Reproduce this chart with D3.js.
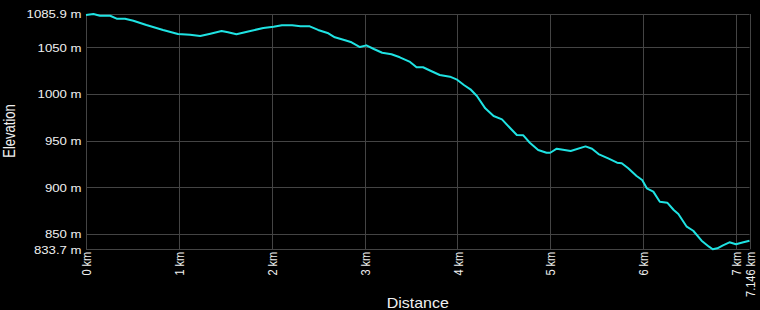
<!DOCTYPE html>
<html>
<head>
<meta charset="utf-8">
<script src="https://cdn.jsdelivr.net/npm/d3@7"></script>
<style>
  html, body { margin: 0; padding: 0; background: #000; }
  svg { display: block; }
  text { font-family: "Liberation Sans", Arial, sans-serif; fill: #f0f0f0; }
</style>
</head>
<body>
<script>
// profile chart
const width = 760;
const height = 310;

// distance along track (km) and elevation (m)
const distKm = [0.00, 0.08, 0.15, 0.26, 0.33, 0.42, 0.51, 0.65, 0.83, 0.99,
  1.12, 1.23, 1.34, 1.46, 1.53, 1.62, 1.77, 1.91, 2.02, 2.11,
  2.22, 2.31, 2.41, 2.50, 2.61, 2.68, 2.79, 2.86, 2.95, 3.02,
  3.10, 3.19, 3.29, 3.38, 3.49, 3.56, 3.63, 3.71, 3.81, 3.92,
  3.99, 4.07, 4.14, 4.21, 4.30, 4.39, 4.48, 4.57, 4.64, 4.71,
  4.78, 4.87, 4.96, 5.00, 5.07, 5.22, 5.38, 5.45, 5.52, 5.63,
  5.72, 5.77, 5.84, 5.93, 5.99, 6.04, 6.11, 6.18, 6.26, 6.33,
  6.38, 6.47, 6.54, 6.63, 6.71, 6.75, 6.80, 6.86, 6.93, 7.00,
  7.08, 7.146];
const elevM = [1084.8, 1085.9, 1084.0, 1084.0, 1080.9, 1080.9, 1078.7, 1074.1, 1068.8, 1064.5,
  1063.7, 1062.3, 1064.8, 1067.7, 1066.3, 1064.1, 1067.7, 1070.9, 1072.3, 1073.8,
  1073.8, 1072.7, 1072.7, 1068.8, 1065.2, 1060.9, 1057.7, 1055.6, 1050.5, 1052.3,
  1048.4, 1044.4, 1042.7, 1039.5, 1034.5, 1028.8, 1028.8, 1025.1, 1020.5, 1018.7,
  1015.9, 1009.8, 1005.2, 998.0, 984.8, 976.6, 973.0, 963.4, 956.2, 955.9,
  947.9, 940.1, 937.2, 937.2, 941.5, 939.0, 944.0, 941.5, 935.8, 930.8,
  926.5, 925.9, 920.5, 912.3, 908.0, 899.1, 895.5, 884.7, 883.7, 875.8,
  871.5, 857.9, 853.6, 842.9, 836.5, 833.7, 834.8, 838.0, 841.2, 839.1,
  841.2, 842.9];

// tick labels
const xTicks = [0, 1, 2, 3, 4, 5, 6, 7, 7.146];
const xTickLabels = ["0 km", "1 km", "2 km", "3 km", "4 km", "5 km", "6 km", "7 km", "7.146 km"];
const yTicks = [833.7, 850, 900, 950, 1000, 1050, 1085.9];
const yTickLabels = ["833.7 m", "850 m", "900 m", "950 m", "1000 m", "1050 m", "1085.9 m"];

const points = distKm.map((d, i) => ({km: d, m: elevM[i]}));

const plotLeft = 86, plotRight = 749.5, plotTop = 14, plotBottom = 249.3;
const stretch = 1.2; // text in the picture is a bit wide

const svg = d3.select("body").append("svg")
  .attr("width", width).attr("height", height);

svg.append("rect").attr("width", width).attr("height", height).attr("fill", "#000");

const x = d3.scaleLinear().domain([0, 7.146]).range([plotLeft, plotRight]);
const y = d3.scaleLinear().domain([833.7, 1085.9]).range([plotBottom, plotTop]);

// grid
const grid = svg.append("g").attr("stroke", "#444").attr("stroke-width", 1);
grid.selectAll(".hgrid").data(yTicks).enter().append("line")
  .attr("x1", plotLeft).attr("x2", plotRight)
  .attr("y1", d => Math.round(y(d)) + 0.5).attr("y2", d => Math.round(y(d)) + 0.5);
grid.selectAll(".vgrid").data(xTicks).enter().append("line")
  .attr("y1", plotTop).attr("y2", plotBottom)
  .attr("x1", d => Math.round(x(d)) + 0.5).attr("x2", d => Math.round(x(d)) + 0.5);

// y axis labels
const yAxis = svg.append("g")
  .attr("transform", `translate(${plotLeft},0)`)
  .call(d3.axisLeft(y).tickValues(yTicks).tickSize(0)
    .tickFormat((d, i) => yTickLabels[i]));
yAxis.select(".domain").remove();
yAxis.selectAll("text")
  .attr("font-size", 11)
  .attr("x", -4.5 / stretch)
  .attr("dy", "0.34em")
  .attr("transform", `scale(${stretch},1)`)
  .attr("fill", "#f0f0f0");

// x axis labels, rotated
const xAxis = svg.append("g")
  .attr("transform", `translate(0,${plotBottom})`)
  .call(d3.axisBottom(x).tickValues(xTicks).tickSize(0)
    .tickFormat((d, i) => xTickLabels[i]));
xAxis.select(".domain").remove();
xAxis.selectAll("text")
  .attr("font-size", 11)
  .attr("text-anchor", "end")
  .attr("transform", `scale(${stretch},1) rotate(-90)`)
  .attr("x", -2.5)
  .attr("y", 0)
  .attr("dy", "0.35em")
  .attr("fill", "#f0f0f0");

// profile line
const line = d3.line().x(d => x(d.km)).y(d => y(d.m));
svg.append("path").datum(points)
  .attr("d", line)
  .attr("fill", "none")
  .attr("stroke", "#1fe3e3")
  .attr("stroke-width", 2)
  .attr("stroke-linejoin", "round");

// axis titles
svg.append("text")
  .attr("transform", `translate(${(plotLeft + plotRight) / 2},308) scale(${stretch * 0.95},1)`)
  .attr("text-anchor", "middle")
  .attr("font-size", 14)
  .text("Distance");

svg.append("text")
  .attr("transform", `translate(15,131) scale(${stretch},1) rotate(-90)`)
  .attr("text-anchor", "middle")
  .attr("font-size", 13)
  .text("Elevation");
</script>
</body>
</html>
